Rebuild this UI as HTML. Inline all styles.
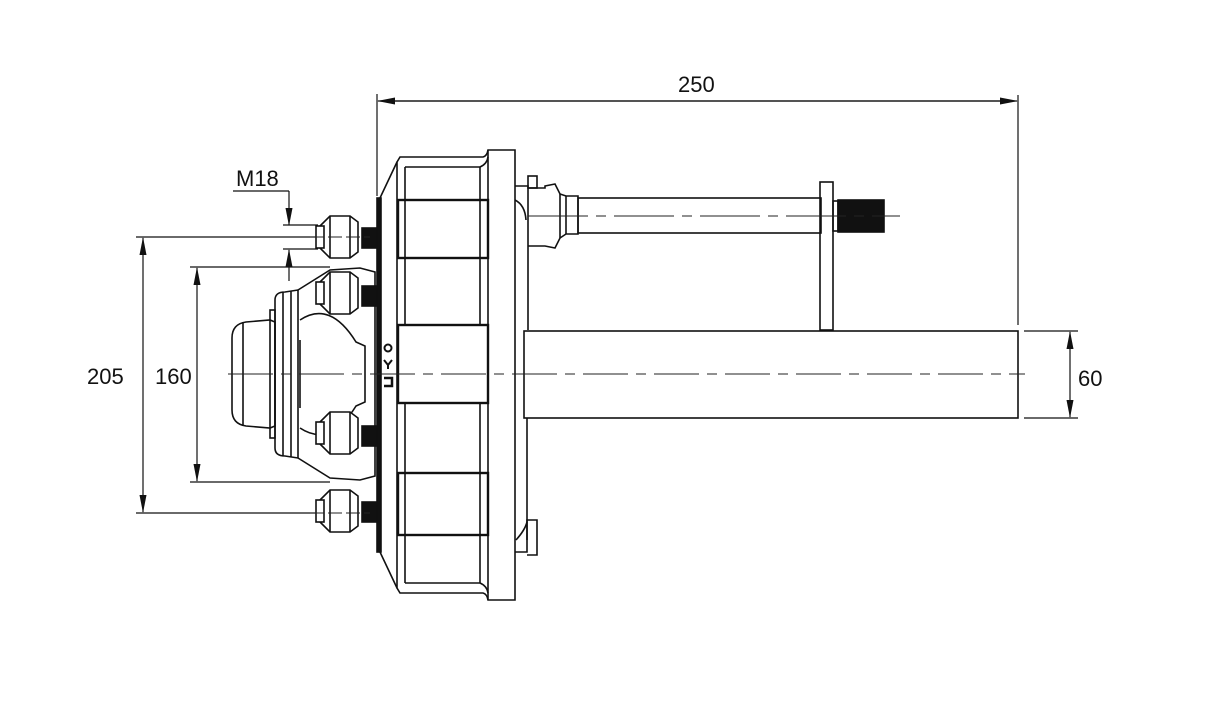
<!DOCTYPE html>
<html><head><meta charset="utf-8"><style>
html,body{margin:0;padding:0;background:#fff;}
svg{display:block;}
text{font-family:"Liberation Sans",Arial,sans-serif;font-size:22px;fill:#111;}
</style></head><body>
<svg width="1211" height="707" viewBox="0 0 1211 707" xmlns="http://www.w3.org/2000/svg">
<defs>
<marker id="a" markerWidth="18" markerHeight="8" refX="17" refY="4" orient="auto" markerUnits="userSpaceOnUse"><path d="M0,0.5 L18,4 L0,7.5 Z" fill="#111"/></marker>
</defs>
<g stroke="#111" fill="none" stroke-width="1.2">
<line x1="377" y1="94" x2="377" y2="196"/>
<line x1="1018" y1="95" x2="1018" y2="325"/>
<line x1="395" y1="101" x2="1017" y2="101" marker-end="url(#a)"/>
<line x1="1000" y1="101" x2="378" y2="101" marker-end="url(#a)"/>
<line x1="136" y1="237" x2="320" y2="237"/>
<line x1="136" y1="513" x2="320" y2="513"/>
<line x1="143" y1="260" x2="143" y2="238" marker-end="url(#a)"/>
<line x1="143" y1="260" x2="143" y2="512" marker-end="url(#a)"/>
<line x1="190" y1="267" x2="330" y2="267"/>
<line x1="190" y1="482" x2="330" y2="482"/>
<line x1="197" y1="290" x2="197" y2="268" marker-end="url(#a)"/>
<line x1="197" y1="290" x2="197" y2="481" marker-end="url(#a)"/>
<line x1="233" y1="191" x2="289" y2="191"/>
<line x1="289" y1="191" x2="289" y2="225" marker-end="url(#a)"/>
<line x1="289" y1="281" x2="289" y2="250" marker-end="url(#a)"/>
<line x1="283" y1="225" x2="318" y2="225"/>
<line x1="283" y1="249" x2="318" y2="249"/>
<line x1="1024" y1="331" x2="1078" y2="331"/>
<line x1="1024" y1="418" x2="1078" y2="418"/>
<line x1="1070" y1="350" x2="1070" y2="332" marker-end="url(#a)"/>
<line x1="1070" y1="350" x2="1070" y2="417" marker-end="url(#a)"/>
</g>
<text x="678" y="92">250</text>
<text x="236" y="186">M18</text>
<text x="87" y="384">205</text>
<text x="155" y="384">160</text>
<text x="1078" y="386">60</text>

<g stroke="#111" fill="none" stroke-width="1.6">
<rect x="524" y="331" width="494" height="87" fill="#fff"/>
<rect x="578" y="198" width="243" height="35"/>
<rect x="820" y="182" width="13" height="148"/>
<rect x="833" y="201" width="5" height="30"/>
<rect x="838" y="200" width="46" height="32" fill="#111"/>
<path d="M528,188 L545,188 L545,186 L555,184 L560,194 L566,196 L578,196 L578,234 L566,234 L560,238 L555,248 L545,246 L528,246"/>
<line x1="560" y1="194" x2="560" y2="238"/>
<line x1="566" y1="196" x2="566" y2="234"/>
<rect x="528" y="176" width="9" height="12"/>
<path d="M515,186 L528,186 L528,330"/>
<path d="M515,200 Q525,205 526,220"/>
<line x1="527" y1="418" x2="527" y2="540"/>
<path d="M515,552 L527,552 L527,520 L537,520 L537,555 L527,555"/>
<path d="M516,540 Q525,530 527,522"/>
<path d="M397,162 L400,157 L483,157 Q487,156 488,150 L515,150 L515,600 L488,600 Q487,594 483,593 L400,593 L397,588 Z" fill="#fff"/>
<path d="M380,198 L397,162 M380,552 L397,588"/>
<rect x="377" y="198" width="4" height="354" fill="#111"/>
<line x1="405" y1="167" x2="480" y2="167"/>
<line x1="405" y1="583" x2="480" y2="583"/>
<line x1="405" y1="167" x2="405" y2="583"/>
<line x1="480" y1="167" x2="480" y2="583"/>
<line x1="488" y1="150" x2="488" y2="600"/>
<path d="M480,167 Q487,164 488,157 M480,583 Q487,586 488,593"/>
<rect x="398" y="200" width="90" height="58" fill="#fff" stroke-width="2.4"/>
<rect x="398" y="325" width="90" height="78" fill="#fff" stroke-width="2.4"/>
<rect x="398" y="473" width="90" height="62" fill="#fff" stroke-width="2.4"/>
<line x1="405" y1="200" x2="405" y2="258"/><line x1="480" y1="200" x2="480" y2="258"/>
<line x1="405" y1="473" x2="405" y2="535"/><line x1="480" y1="473" x2="480" y2="535"/>
<path d="M246,322 L270,320 L275,322 L275,426 L270,428 L246,426 Q232,424 232,410 L232,338 Q232,324 246,322 Z" fill="#fff"/>
<line x1="243" y1="322" x2="243" y2="426"/>
<rect x="270" y="310" width="5" height="128"/>
<path d="M275,300 Q275,292 285,292 L298,290 L298,458 L285,456 Q275,456 275,448 Z"/>
<line x1="283" y1="292" x2="283" y2="456"/>
<line x1="291" y1="291" x2="291" y2="457"/>
<path d="M298,290 L330,270 L360,268 L375,272 L375,476 L360,480 L330,478 L298,458"/>
<path d="M300,320 Q330,300 356,342 L365,346 L365,402 L356,406 Q330,448 300,428"/>
<line x1="300" y1="340" x2="300" y2="408"/>
<rect x="362" y="228" width="15" height="20" fill="#111"/>
<rect x="362" y="286" width="15" height="20" fill="#111"/>
<rect x="362" y="426" width="15" height="20" fill="#111"/>
<rect x="362" y="502" width="15" height="20" fill="#111"/>
<g fill="#fff">
<path d="M320,226 L330,216 L350,216 L358,222 L358,252 L350,258 L330,258 L320,248 Z"/>
<path d="M320,282 L330,272 L350,272 L358,278 L358,308 L350,314 L330,314 L320,304 Z"/>
<path d="M320,422 L330,412 L350,412 L358,418 L358,448 L350,454 L330,454 L320,444 Z"/>
<path d="M320,500 L330,490 L350,490 L358,496 L358,526 L350,532 L330,532 L320,522 Z"/>
</g>
<rect x="316" y="226" width="8" height="22" fill="#fff"/>
<rect x="316" y="282" width="8" height="22" fill="#fff"/>
<rect x="316" y="422" width="8" height="22" fill="#fff"/>
<rect x="316" y="500" width="8" height="22" fill="#fff"/>
<line x1="350" y1="216" x2="350" y2="258"/><line x1="330" y1="216" x2="330" y2="258"/>
<line x1="350" y1="272" x2="350" y2="314"/><line x1="330" y1="272" x2="330" y2="314"/>
<line x1="350" y1="412" x2="350" y2="454"/><line x1="330" y1="412" x2="330" y2="454"/>
<line x1="350" y1="490" x2="350" y2="532"/><line x1="330" y1="490" x2="330" y2="532"/>
<circle cx="388" cy="348" r="3.5" stroke-width="2"/>
<path d="M384,360 L388,365 L392,360 M388,365 L388,369" stroke-width="2"/>
<path d="M384,378 L392,378 L392,386 L384,386" stroke-width="2.5"/>
</g>
<g stroke="#222" stroke-width="1" fill="none">
<line x1="228" y1="374" x2="1025" y2="374" stroke-dasharray="45,8,10,8"/>
<line x1="528" y1="216" x2="900" y2="216" stroke-dasharray="60,8,10,8"/>
<line x1="310" y1="237" x2="370" y2="237" stroke-dasharray="14,4"/>
<line x1="310" y1="513" x2="370" y2="513" stroke-dasharray="14,4"/>
</g>
</svg>
</body></html>
